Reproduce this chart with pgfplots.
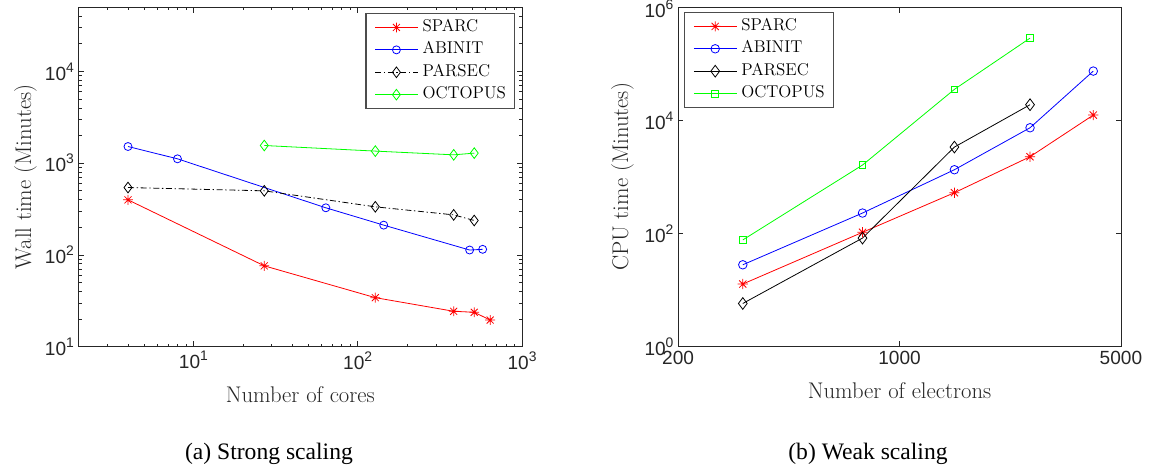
\documentclass[border=0pt]{standalone}
\usepackage{fontspec}
\usepackage{pgfplots}
\pgfplotsset{compat=1.18}
\newfontfamily\ticksf{Liberation Sans}
\newfontfamily\capfont{Liberation Serif}
\newcommand\tl[1]{10\raisebox{6pt}{\fontsize{10.4}{11}\selectfont #1}}
\pgfdeclareplotmark{mstar}{%
 \pgfpathmoveto{\pgfqpoint{-\pgfplotmarksize}{0pt}}\pgfpathlineto{\pgfqpoint{\pgfplotmarksize}{0pt}}%
 \pgfpathmoveto{\pgfqpoint{0pt}{-\pgfplotmarksize}}\pgfpathlineto{\pgfqpoint{0pt}{\pgfplotmarksize}}%
 \pgfpathmoveto{\pgfqpoint{-.7071\pgfplotmarksize}{-.7071\pgfplotmarksize}}\pgfpathlineto{\pgfqpoint{.7071\pgfplotmarksize}{.7071\pgfplotmarksize}}%
 \pgfpathmoveto{\pgfqpoint{-.7071\pgfplotmarksize}{.7071\pgfplotmarksize}}\pgfpathlineto{\pgfqpoint{.7071\pgfplotmarksize}{-.7071\pgfplotmarksize}}%
 \pgfusepathqstroke}
\definecolor{mred}{rgb}{1,0,0}
\definecolor{mblue}{rgb}{0,0,1}
\definecolor{mgreen}{rgb}{0,1,0}
\definecolor{axgray}{rgb}{0.15,0.15,0.15}
\pgfplotsset{
    axis line style={axgray, line width=0.6pt},
    tick style={axgray, line width=0.5pt},
    major tick length=4pt, minor tick length=2.3pt,
    tick align=inside,
    every tick label/.append style={font=\ticksf\fontsize{14.3}{16}\selectfont, text=axgray},
    label style={font=\fontsize{17}{19}\selectfont, text=axgray},
    legend cell align=left,
    legend style={font=\fontsize{12.8}{14}\selectfont, draw=black!70, line width=0.8pt,
      inner xsep=6.5pt, inner ysep=4.2pt, row sep=4.8pt,
      nodes={inner sep=0pt, text height=9pt, text depth=3pt}},
    legend image code/.code={\draw[mark repeat=2,mark phase=2,#1] plot coordinates {(0pt,0pt) (16pt,0pt) (32pt,0pt)};},
    every axis plot/.append style={line width=0.6pt, mark options={solid}},
}
\pgfplotsset{/tikz/every odd column/.append style={column sep=3.3pt}}
\begin{document}
\begin{tikzpicture}[x=1pt,y=1pt]
\useasboundingbox (0,0) rectangle (862.5,351);
\begin{axis}[scale only axis, xmode=log, ymode=log,
  at={(58.9pt,91pt)}, anchor=south west, width=332.6pt, height=254.6pt,
  xmin=2, xmax=1000, ymin=10, ymax=50000,
  xtick={10,100,1000}, xticklabels={\tl{1},\tl{2},\tl{3}},
  ytick={10,100,1000,10000}, yticklabels={\tl{1},\tl{2},\tl{3},\tl{4}},
  minor xtick={2,3,4,5,6,7,8,9,20,30,40,50,60,70,80,90,200,300,400,500,600,700,800,900},
  minor ytick={20,30,40,50,60,70,80,90,200,300,400,500,600,700,800,900,2000,3000,4000,5000,6000,7000,8000,9000,20000,30000,40000},
  xlabel={Number of cores}, ylabel={Wall time (Minutes)},
  xlabel style={at={(axis description cs:0.5,0)}, anchor=base, yshift=-42.2pt},
  ylabel style={at={([xshift=-35.6pt]axis description cs:0,0.5)}, anchor=base},
  legend style={at={(axis description cs:1,1)}, anchor=north east, xshift=-5.2pt, yshift=-4.6pt},
]
\addplot[mred, mark=mstar, mark size=3.7pt] coordinates {(4,398) (27,76) (128,34.2) (384,24.3) (512,23.7) (640,19.5)};
\addlegendentry{SPARC}
\addplot[mblue, mark=o, mark size=3pt] coordinates {(4,1517) (8,1114) (64,326) (144,211) (480,113) (576,115)};
\addlegendentry{ABINIT}
\addplot[black, dash pattern=on 4.5pt off 2pt on 1pt off 2pt, mark=diamond, mark size=4pt] coordinates {(4,542) (27,499) (128,334) (384,273) (512,237)};
\addlegendentry{PARSEC}
\addplot[mgreen, mark=diamond, mark size=4pt] coordinates {(27,1556) (128,1352) (384,1231) (512,1285)};
\addlegendentry{OCTOPUS}
\end{axis}
\begin{axis}[scale only axis, xmode=log, ymode=log,
  at={(508.6pt,91pt)}, anchor=south west, width=332.1pt, height=254.6pt,
  xmin=200, xmax=5000, ymin=1, ymax=1000000,
  xtick={200,1000,5000}, xticklabels={200,1000,5000},
  ytick={1,100,10000,1000000}, yticklabels={\tl{0},\tl{2},\tl{4},\raisebox{-3pt}[10pt][0pt]{\tl{6}}},
  minor tick style={draw=none},
  xlabel={Number of electrons}, ylabel={CPU time (Minutes)},
  xlabel style={at={(axis description cs:0.5,0)}, anchor=base, yshift=-38.7pt},
  ylabel style={at={([xshift=-37.5pt]axis description cs:0,0.5)}, anchor=base},
  legend style={at={(axis description cs:0,1)}, anchor=north west, xshift=4.6pt, yshift=-3.8pt},
]
\addplot[mred, mark=mstar, mark size=3.8pt] coordinates {(320,12.8) (764,105) (1490,526) (2582,2275) (4089,12400)};
\addlegendentry{SPARC}
\addplot[mblue, mark=o, mark size=3.2pt] coordinates {(320,28) (764,230) (1490,1340) (2582,7400) (4089,74300)};
\addlegendentry{ABINIT}
\addplot[black, mark=diamond, mark size=4.4pt] coordinates {(320,5.8) (764,83) (1490,3370) (2582,18900)};
\addlegendentry{PARSEC}
\addplot[mgreen, mark=square, mark size=2.5pt] coordinates {(320,77) (764,1622) (1490,35300) (2582,284000)};
\addlegendentry{OCTOPUS}
\end{axis}
\node[font=\capfont\fontsize{17.7}{20}\selectfont, anchor=base] at (201.75,6.75) {(a) Strong scaling};
\node[font=\capfont\fontsize{17.7}{20}\selectfont, anchor=base] at (651,6.75) {(b) Weak scaling};
\end{tikzpicture}
\end{document}
